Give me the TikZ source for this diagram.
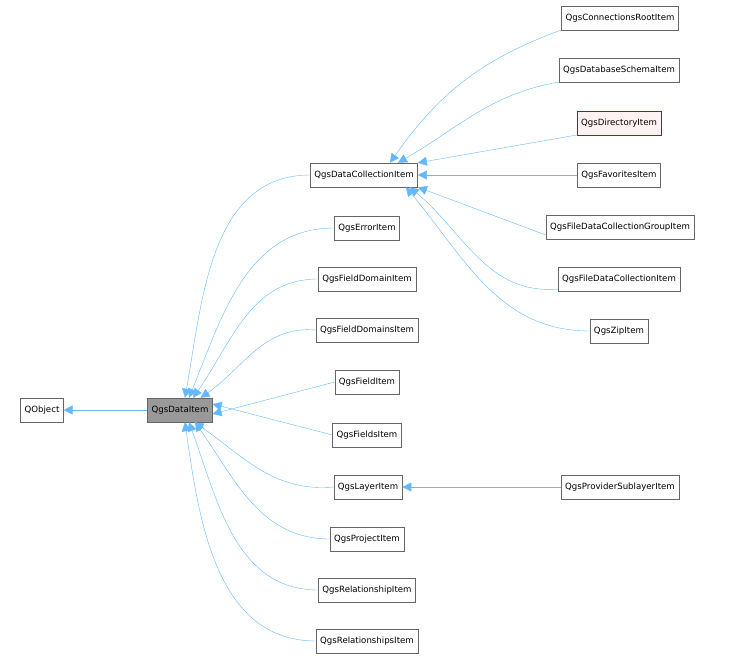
\documentclass[tikz,border=0pt]{standalone}
\usepackage{fontspec}
\setmainfont{DejaVu Sans}
\usetikzlibrary{arrows.meta}
\definecolor{edgeblue}{HTML}{63B8FF}
\definecolor{boxgray}{HTML}{666666}
\tikzset{
  cls/.style = {draw=boxgray, fill=white, minimum height=24pt, inner xsep=4pt,
                font=\fontsize{8.6pt}{10pt}\selectfont},
  inh/.style = {draw=edgeblue, {Triangle[length=9pt,width=9pt,fill=edgeblue]}-}
}
\begin{document}
\begin{tikzpicture}[x=1pt, y=-1pt]
  \useasboundingbox (0,0) rectangle (742,662);
  % base classes
  \node[cls] (qobject) at (42,410) {QObject};
  \node[cls, fill=gray!80] (dataitem) at (180,410) {QgsDataItem};
  % middle column
  \node[cls] (collection) at (364,175) {QgsDataCollectionItem};
  \node[cls] (error) at (367,228) {QgsErrorItem};
  \node[cls] (fielddomain) at (367,279) {QgsFieldDomainItem};
  \node[cls] (fielddomains) at (367,330) {QgsFieldDomainsItem};
  \node[cls] (field) at (367,382) {QgsFieldItem};
  \node[cls] (fields) at (367,435) {QgsFieldsItem};
  \node[cls] (layer) at (368,487) {QgsLayerItem};
  \node[cls] (project) at (367,539) {QgsProjectItem};
  \node[cls] (relation) at (367,590) {QgsRelationshipItem};
  \node[cls] (relations) at (367,641) {QgsRelationshipsItem};
  % right column
  \node[cls] (connroot) at (620,18) {QgsConnectionsRootItem};
  \node[cls] (schema) at (619,70) {QgsDatabaseSchemaItem};
  \node[cls, draw=red!80!black, fill=red!5] (directory) at (619,123) {QgsDirectoryItem};
  \node[cls] (favorites) at (619,175) {QgsFavoritesItem};
  \node[cls] (filegroup) at (620,227) {QgsFileDataCollectionGroupItem};
  \node[cls] (filecoll) at (619,279) {QgsFileDataCollectionItem};
  \node[cls] (zip) at (619,331) {QgsZipItem};
  \node[cls] (sublayer) at (620,487) {QgsProviderSublayerItem};
  % inheritance
  \draw[inh] (qobject.east) -- (dataitem.west);
  \draw[inh] ([xshift=5pt]dataitem.north) to[out=80, in=180] (collection.west);
  \draw[inh] ([xshift=9pt]dataitem.north) to[out=68, in=180] (error.west);
  \draw[inh] ([xshift=13pt]dataitem.north) to[out=55, in=180] (fielddomain.west);
  \draw[inh] ([xshift=-12pt]dataitem.north east) to[out=35, in=175] (fielddomains.west);
  \draw[inh] ([yshift=-4pt]dataitem.east) -- (field.west);
  \draw[inh] ([yshift=6pt]dataitem.east) -- (fields.west);
  \draw[inh] ([xshift=-18pt]dataitem.south east) to[out=-35, in=185] (layer.west);
  \draw[inh] ([xshift=15pt]dataitem.south) to[out=-55, in=180] (project.west);
  \draw[inh] ([xshift=9pt]dataitem.south) to[out=-70, in=180] (relation.west);
  \draw[inh] ([xshift=5pt]dataitem.south) to[out=-82, in=180] (relations.west);
  \draw[inh] ([xshift=26pt]collection.north) to[out=55, in=200] ([yshift=-12pt]connroot.west);
  \draw[inh] ([xshift=34pt]collection.north) to[out=30, in=190] ([yshift=-12pt]schema.west);
  \draw[inh] (collection.north east) -- ([yshift=-12pt]directory.west);
  \draw[inh] (collection.east) -- (favorites.west);
  \draw[inh] (collection.south east) -- ([yshift=-8pt]filegroup.west);
  \draw[inh] ([xshift=-8pt]collection.south east) to[out=-40, in=185] ([yshift=-10pt]filecoll.west);
  \draw[inh] ([xshift=-12pt]collection.south east) to[out=-50, in=180] (zip.west);
  \draw[inh] (layer.east) -- (sublayer.west);
\end{tikzpicture}
\end{document}
